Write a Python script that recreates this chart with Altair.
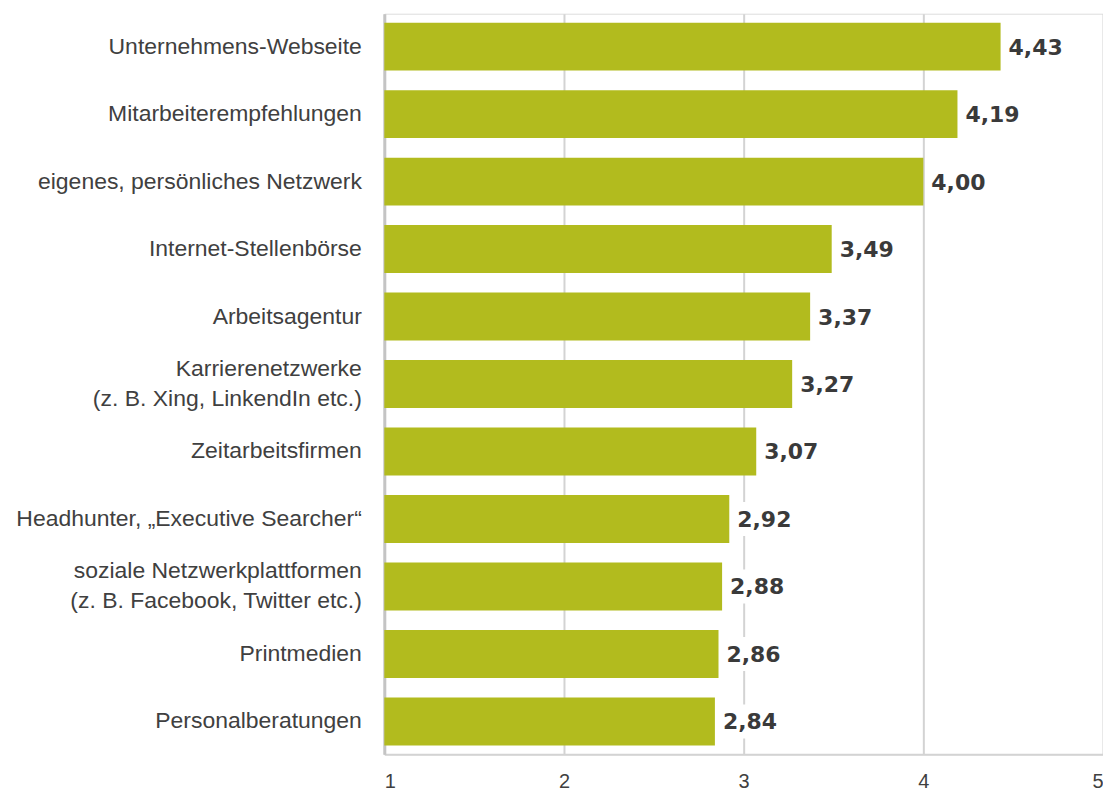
import altair as alt
import pandas as pd

categories = [
    "Unternehmens-Webseite",
    "Mitarbeiterempfehlungen",
    "eigenes, persönliches Netzwerk",
    "Internet-Stellenbörse",
    "Arbeitsagentur",
    "Karrierenetzwerke|(z. B. Xing, LinkendIn etc.)",
    "Zeitarbeitsfirmen",
    "Headhunter, „Executive Searcher“",
    "soziale Netzwerkplattformen|(z. B. Facebook, Twitter etc.)",
    "Printmedien",
    "Personalberatungen",
]
values = [4.43, 4.19, 4.00, 3.49, 3.37, 3.27, 3.07, 2.92, 2.88, 2.86, 2.84]
labels = ["4,43", "4,19", "4,00", "3,49", "3,37", "3,27", "3,07", "2,92", "2,88", "2,86", "2,84"]
x_ticks = [1, 2, 3, 4, 5]

df = pd.DataFrame({"cat": categories, "value": values, "label": labels})

FONT = "Liberation Sans"
VFONT = "DejaVu Sans"
TXT = "#404040"
GRID = "#D3D3D3"

xscale = alt.Scale(domain=[1, 5], nice=False, zero=False)

y_axis = alt.Axis(
    labelExpr="split(datum.label, '|')",
    labelFont=FONT,
    labelFontSize=23,
    labelColor=TXT,
    labelPadding=23,
    labelLineHeight=30,
    labelOffset={"expr": "indexof(datum.value, '|') >= 0 ? -15 : 0"},
    ticks=False,
    domain=True,
    domainColor="#C4C4C4",
    domainWidth=3,
    minExtent=372,
    maxExtent=372,
    labelLimit=400,
)

x_axis = alt.Axis(
    values=x_ticks,
    format="d",
    labelFont=FONT,
    labelFontSize=20,
    labelColor=TXT,
    labelPadding=17,
    ticks=False,
    grid=True,
    gridColor=GRID,
    gridWidth=2,
    domainColor=GRID,
    domainWidth=2,
)

y_enc = alt.Y(
    "cat:N",
    sort=categories,
    title=None,
    scale=alt.Scale(paddingInner=0.29, paddingOuter=0.133),
    axis=y_axis,
)

bars = alt.Chart(df).mark_bar(color="#B2BB1E").encode(
    x=alt.X("value:Q", title=None, scale=xscale, axis=x_axis),
    x2=alt.datum(1),
    y=y_enc,
)

bgbox = alt.Chart(df).transform_calculate(
    x0="datum.value + 0.02", x1="datum.value + 0.34"
).mark_bar(color="white", height=34).encode(
    x=alt.X("x0:Q", scale=xscale),
    x2="x1:Q",
    y=alt.Y("cat:N", sort=categories),
)

text = alt.Chart(df).mark_text(
    align="left", baseline="middle", dx=8, dy=1, font=VFONT, fontSize=22, fontWeight="bold", color="#3A3A3A"
).encode(
    x=alt.X("value:Q", scale=xscale),
    y=alt.Y("cat:N", sort=categories),
    text="label:N",
)

chart = (
    alt.layer(bars, bgbox, text)
    .properties(
        width=720,
        height=742,
        padding={"left": 5, "top": 5, "right": 0, "bottom": 0},
    )
    .configure_view(stroke=None)
    .configure(background="white")
)

chart.save("out.html", embed_options={"renderer": "svg", "actions": False})
